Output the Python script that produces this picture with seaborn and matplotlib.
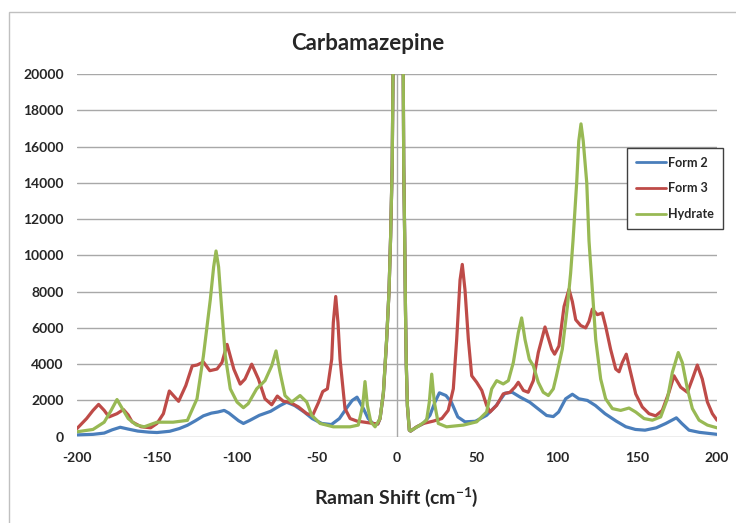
#!/usr/bin/env python3
"""
Carbamazepine low-frequency Raman spectra (Form 2, Form 3, Hydrate).
Output: out.png
"""

import pandas as pd
import matplotlib.pyplot as plt
from matplotlib.patches import Rectangle
import seaborn as sns

# Form 2 (blue)
form2_x = [-200, -190, -183, -178, -173, -168, -162, -155, -150, -142, -136, -131, -126, -121,
           -116, -112, -108, -105, -102, -99, -96, -92, -86, -79, -73, -69, -64, -58, -53, -47,
           -41, -36, -31, -28, -25, -21, -18, -15, -12, -10.6, -8.5, -6.5, -5, -4, -3, -2.5, -2.2,
           3.6, 3.9, 4.2, 4.8, 5.3, 5.8, 6.5, 7.7, 8.5, 12, 16.5, 20.6, 23.7, 26.5, 30.6, 34, 38, 42.5, 49,
           56, 62, 67.5, 72, 77, 83, 88, 93.5, 97.7, 101, 105.4, 109.6, 113.7, 119, 124, 130, 137,
           143, 149, 155, 162, 168, 174.6, 178, 182.5, 189, 195, 200]
form2_y = [100, 130, 200, 380, 520, 420, 310, 250, 230, 300, 450, 630, 880, 1150,
           1300, 1360, 1450, 1300, 1090, 880, 730, 900, 1180, 1400, 1720, 1900, 1720, 1360, 1000, 730,
           670, 1000, 1640, 2000, 2180, 1550, 1000, 730, 700, 1000, 2400, 5300, 8000, 11000, 15000, 20000, 40000,
           40000, 20000, 15000, 11000, 7000, 4000, 1700, 360, 310, 520, 730, 1180, 1900, 2420, 2270, 1900, 1090, 820, 850,
           1180, 1720, 2400, 2450, 2180, 1900, 1550, 1170, 1110, 1360, 2090, 2340, 2090, 2000, 1720, 1270, 860,
           550, 400, 360, 490, 730, 1040, 730, 360, 240, 180, 130]

# Form 3 (red)
form3_x = [-200, -194, -190, -186.5, -183, -180, -175, -171, -168, -165.6, -160, -154, -150, -146,
           -142.3, -139, -136.5, -132, -128, -125, -121, -117, -112.5, -109.4, -106.2, -102, -98,
           -95, -90.8, -86.6, -82.5, -78.3, -74.8, -71, -67, -61.6, -56.4, -52.7, -49, -46.4, -43.5,
           -40.8, -39.8, -38.3, -36.9, -35.6, -32.5, -29.3, -25, -19, -14.8, -12, -10.6, -8.5, -6.5,
           -5, -4, -3, -2.5, -2.2, 3.6, 3.9, 4.2, 4.8, 5.3, 5.8, 6.5, 7.7, 8.5, 12.3, 16.5, 22.7, 28,
           32, 35.2, 37.3, 39.4, 40.8, 42.5, 44.6, 46.7, 49.8, 53, 56, 58.1, 62.3, 66.4, 70.6, 73.7,
           75.8, 79, 82, 85.2, 88.3, 92.5, 96.7, 98.5, 101.2, 104.4, 107.5, 109.6, 111.7, 114.8,
           117.9, 120, 122.1, 125.2, 128.3, 130.4, 133.5, 136.7, 138.8, 140.8, 143.3, 146, 149.2,
           153.3, 157.5, 161.7, 165.8, 170, 173.1, 177.3, 181.5, 184.6, 187.7, 190.8, 194, 197.1, 200]
form3_y = [450, 1000, 1450, 1780, 1450, 1090, 1270, 1500, 1200, 820, 550, 490, 730, 1270,
           2520, 2200, 1950, 2820, 3900, 3950, 4120, 3640, 3730, 4090, 5090, 3730, 2900,
           3180, 4000, 3180, 2090, 1760, 2240, 1950, 1900, 1640, 1270, 1180, 1900, 2490, 2640,
           4270, 6300, 7730, 6300, 4270, 1550, 1000, 860, 780, 730, 700, 1000, 2400, 5300,
           8000, 11000, 15000, 20000, 40000, 40000, 20000, 15000, 11000, 7000, 4000, 1700, 360, 310, 545, 730, 860, 1000,
           1450, 2640, 5360, 8640, 9500, 8090, 5360, 3360, 3000, 2550, 1730, 1360, 1730, 2360, 2450, 2730,
           3000, 2550, 2450, 3090, 4640, 6050, 4820, 4550, 5000, 7180, 8130, 7450, 6450, 6130,
           6000, 6360, 7040, 6730, 6820, 6090, 4820, 3730, 3580, 4090, 4550, 3550, 2360,
           1640, 1270, 1150, 1450, 2450, 3360, 2730, 2450, 3180, 3950, 3180, 1910, 1270, 910]

# Hydrate (green)
hydrate_x = [-200, -190, -183, -179, -175, -172, -168, -163, -158, -150, -140, -131, -125, -121,
             -116.7, -114.6, -113.1, -111.5, -110, -107.3, -104.2, -100, -96, -93, -87.7, -82.5,
             -78.3, -75.6, -73.1, -70, -65.8, -60.6, -56.4, -53.3, -48.1, -39.8, -29.3, -24.2, -21.4,
             -20, -18.5, -16.4, -13.7, -10.6, -8.5, -6.5, -5, -4, -3, -2.5, -2.2, 3.6, 3.9, 4.2, 4.8,
             5.3, 5.8, 6.5, 7.7, 8.5, 14.4, 18.5, 20.2, 21.7, 23.3, 25.8, 31, 41.5, 49.8, 56, 59.2,
             62.3, 66.4, 69.6, 72.7, 75.8, 77.9, 80, 82.7, 85.2, 88.3, 91.4, 94.6, 97.7, 99.5, 103.3,
             106.5, 108.5, 110, 112.3, 113.6, 115, 116.4, 118.6, 120, 122.1, 124.2, 127.3, 130.4,
             134.6, 139.8, 145, 149.2, 154.4, 159.6, 164.8, 169, 172.1, 175.8, 178.3, 181.5, 184.6,
             188.8, 194, 200]
hydrate_y = [270, 400, 800, 1400, 2050, 1600, 1000, 650, 545, 800, 800, 900, 2090, 4450,
             7550, 9360, 10240, 9360, 7550, 4450, 2640, 1910, 1600, 1820, 2640, 3090,
             3910, 4730, 3550, 2270, 1910, 2270, 1910, 1180, 730, 545, 545, 640, 1730,
             3040, 1730, 820, 545, 1000, 2450, 5360, 8000, 11000, 15000, 20000, 40000, 40000, 20000, 15000, 11000,
             7000, 4000, 1730, 360, 320, 640, 910, 1910, 3450, 1910, 730, 545, 640, 820, 1360, 2640,
             3090, 2910, 3090, 4090, 5730, 6550, 5360, 4270, 3910, 3000, 2450, 2270, 2640, 3300, 4820,
             7180, 9000, 10800, 14000, 16300, 17250, 16300, 14000, 10800, 8090, 5360, 3180, 2090,
             1550, 1450, 1580, 1360, 1000, 910, 1090, 2090, 3550, 4640, 4090, 2640, 1550,
             910, 640, 490]

series = {"Form 2": (form2_x, form2_y),
          "Form 3": (form3_x, form3_y),
          "Hydrate": (hydrate_x, hydrate_y)}
colors = {"Form 2": "#4a7ebb", "Form 3": "#be4b48", "Hydrate": "#98b954"}

df = pd.concat([pd.DataFrame({"shift": x, "intensity": y, "sample": name})
                for name, (x, y) in series.items()], ignore_index=True)

sns.set_style("white")
plt.rcParams["font.family"] = ["Lato", "DejaVu Sans"]
plt.rcParams["axes.unicode_minus"] = False
plt.rcParams["mathtext.fontset"] = "custom"
plt.rcParams["mathtext.rm"] = "Lato"
plt.rcParams["mathtext.bf"] = "Lato:bold"

fig = plt.figure(figsize=(7.36, 5.23), dpi=100)
ax = fig.add_axes([77 / 736, 86.3 / 523, 640 / 736, 362.7 / 523])

grid_c = "#a8a8a8"
for yv in range(0, 20001, 2000):
    ax.axhline(yv, color=grid_c, lw=1, zorder=0)
ax.axvline(0, color=grid_c, lw=1, zorder=0)

sns.lineplot(data=df, x="shift", y="intensity", hue="sample", palette=colors,
             estimator=None, sort=False, lw=2.3, ax=ax)

ax.set_xlim(-200, 200)
ax.set_ylim(0, 20000)
ax.set_xticks(range(-200, 201, 50))
ax.set_yticks(range(0, 20001, 2000))
for s in ax.spines.values():
    s.set_visible(False)
ax.tick_params(axis="x", length=3.6, width=1, color=grid_c, direction="out", pad=7.5,
               labelsize=10)
ax.tick_params(axis="y", length=0, pad=9.5, labelsize=10)
for lab in ax.get_xticklabels() + ax.get_yticklabels():
    lab.set_fontweight("bold")
ax.set_xlabel("")
ax.set_ylabel("")

leg = ax.legend(loc="upper left", bbox_to_anchor=(627 / 736, 1 - 148 / 523),
                bbox_transform=fig.transFigure, frameon=True, fancybox=False,
                framealpha=1, edgecolor="#404040", handlelength=2.4, handletextpad=0.2,
                labelspacing=1.1, borderpad=0.7, borderaxespad=0,
                prop={"weight": "bold", "size": 9})
leg.get_frame().set_linewidth(1)
for line in leg.get_lines():
    line.set_linewidth(2)

fig.text(368 / 736, 1 - 43 / 523, "Carbamazepine", ha="center", va="center",
         fontsize=16, fontweight="bold")
fig.text(396 / 736, 1 - 497 / 523, r"Raman Shift (cm$^{\mathbf{-1}}$)", ha="center",
         va="center", fontsize=14, fontweight="bold")

# chart area border (only left/top edges fall inside the image)
fig.add_artist(Rectangle((9 / 736, -0.2), 2, 1.2 - 12 / 523, transform=fig.transFigure,
                         fill=False, edgecolor="#c0c0c0", lw=1))

fig.savefig("out.png", dpi=100)
